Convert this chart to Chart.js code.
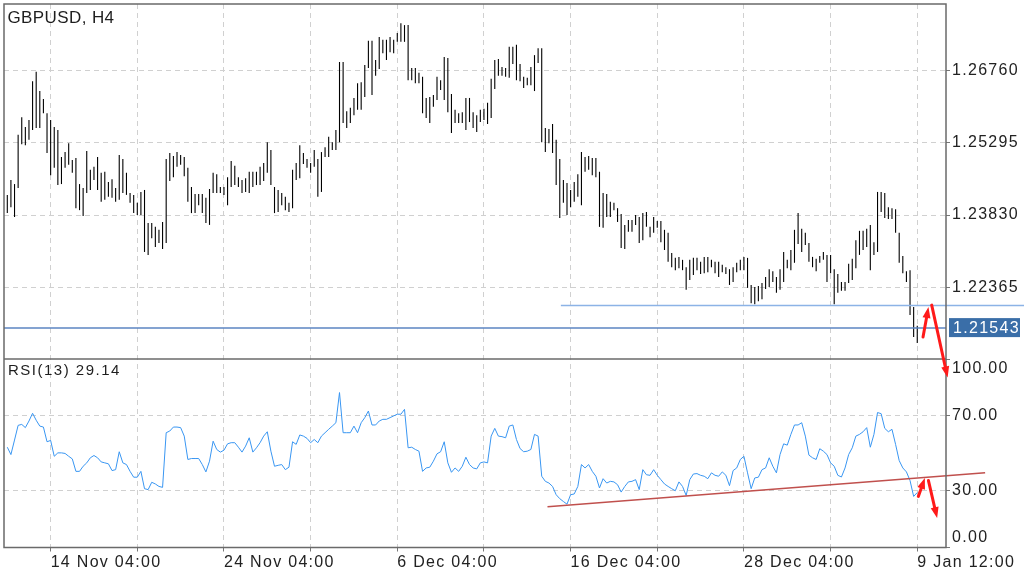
<!DOCTYPE html>
<html>
<head>
<meta charset="utf-8">
<title>GBPUSD, H4</title>
<script src="https://cdn.jsdelivr.net/npm/chart.js@4/dist/chart.umd.min.js"></script>
<style>
  html, body { margin: 0; padding: 0; background: #fff; }
  #chart { display: block; }
</style>
</head>
<body>
<canvas id="chart" width="1024" height="577"></canvas>
<script>
const symbolTitle = 'GBPUSD, H4';
const rsiTitle = 'RSI(13) 29.14';

// H4 bars, one per 4 hours (high / low)
const highs = [
  1.2424, 1.2454, 1.2446, 1.2546, 1.2582, 1.2562, 1.2576, 1.2655, 1.2674, 1.2635, // 0
  1.2619, 1.2590, 1.2576, 1.2562, 1.2556, 1.2501, 1.2511, 1.2529, 1.2495, 1.2499, // 10
  1.2446, 1.2438, 1.2513, 1.2475, 1.2481, 1.2501, 1.2469, 1.2471, 1.2450, 1.2456, // 20
  1.2438, 1.2505, 1.2497, 1.2469, 1.2428, 1.2424, 1.2408, 1.2430, 1.2434, 1.2367, // 30
  1.2367, 1.2359, 1.2353, 1.2369, 1.2497, 1.2509, 1.2503, 1.2511, 1.2505, 1.2501, // 40
  1.2479, 1.2440, 1.2426, 1.2426, 1.2426, 1.2418, 1.2436, 1.2469, 1.2466, 1.2440, // 50
  1.2440, 1.2460, 1.2493, 1.2483, 1.2460, 1.2454, 1.2458, 1.2471, 1.2471, 1.2471, // 60
  1.2481, 1.2489, 1.2531, 1.2515, 1.2440, 1.2434, 1.2428, 1.2420, 1.2408, 1.2475, // 70
  1.2489, 1.2525, 1.2509, 1.2497, 1.2489, 1.2515, 1.2497, 1.2511, 1.2521, 1.2542, // 80
  1.2531, 1.2556, 1.2694, 1.2694, 1.2594, 1.2601, 1.2621, 1.2651, 1.2653, 1.2688, // 90
  1.2737, 1.2737, 1.2698, 1.2745, 1.2739, 1.2739, 1.2745, 1.2739, 1.2753, 1.2773, // 100
  1.2769, 1.2769, 1.2682, 1.2682, 1.2672, 1.2664, 1.2621, 1.2623, 1.2627, 1.2664, // 110
  1.2657, 1.2704, 1.2702, 1.2629, 1.2597, 1.2590, 1.2592, 1.2621, 1.2621, 1.2592, // 120
  1.2586, 1.2597, 1.2599, 1.2611, 1.2660, 1.2698, 1.2700, 1.2684, 1.2682, 1.2725, // 130
  1.2725, 1.2729, 1.2690, 1.2664, 1.2662, 1.2684, 1.2708, 1.2722, 1.2722, 1.2560, // 140
  1.2558, 1.2568, 1.2536, 1.2497, 1.2454, 1.2448, 1.2434, 1.2450, 1.2466, 1.2511, // 150
  1.2501, 1.2503, 1.2499, 1.2499, 1.2471, 1.2428, 1.2426, 1.2410, 1.2408, 1.2397, // 160
  1.2385, 1.2363, 1.2373, 1.2373, 1.2383, 1.2379, 1.2387, 1.2389, 1.2359, 1.2379, // 170
  1.2371, 1.2371, 1.2353, 1.2347, 1.2306, 1.2296, 1.2298, 1.2292, 1.2277, 1.2292, // 180
  1.2296, 1.2296, 1.2288, 1.2298, 1.2298, 1.2292, 1.2288, 1.2288, 1.2282, 1.2277, // 190
  1.2273, 1.2277, 1.2286, 1.2292, 1.2298, 1.2296, 1.2241, 1.2237, 1.2239, 1.2245, // 200
  1.2257, 1.2273, 1.2269, 1.2257, 1.2273, 1.2308, 1.2292, 1.2312, 1.2353, 1.2387, // 210
  1.2355, 1.2347, 1.2326, 1.2298, 1.2294, 1.2300, 1.2308, 1.2302, 1.2302, 1.2273, // 220
  1.2263, 1.2247, 1.2247, 1.2284, 1.2294, 1.2332, 1.2351, 1.2351, 1.2355, 1.2363, // 230
  1.2328, 1.2430, 1.2430, 1.2428, 1.2399, 1.2397, 1.2395, 1.2347, 1.2300, 1.2269, // 240
  1.2271, 1.2196, 1.2158                                                          // 250
];
const lows = [
  1.2387, 1.2399, 1.2379, 1.2438, 1.2527, 1.2525, 1.2536, 1.2556, 1.2560, 1.2560,
  1.2590, 1.2509, 1.2464, 1.2479, 1.2444, 1.2446, 1.2479, 1.2485, 1.2469, 1.2397,
  1.2393, 1.2381, 1.2428, 1.2434, 1.2454, 1.2434, 1.2410, 1.2414, 1.2420, 1.2418,
  1.2410, 1.2414, 1.2428, 1.2424, 1.2408, 1.2387, 1.2383, 1.2383, 1.2308, 1.2302,
  1.2336, 1.2318, 1.2326, 1.2314, 1.2326, 1.2452, 1.2460, 1.2481, 1.2485, 1.2462,
  1.2410, 1.2387, 1.2387, 1.2403, 1.2387, 1.2367, 1.2363, 1.2428, 1.2428, 1.2428,
  1.2424, 1.2403, 1.2440, 1.2444, 1.2440, 1.2428, 1.2430, 1.2428, 1.2440, 1.2444,
  1.2444, 1.2452, 1.2469, 1.2444, 1.2387, 1.2389, 1.2403, 1.2393, 1.2389, 1.2397,
  1.2454, 1.2458, 1.2487, 1.2479, 1.2469, 1.2481, 1.2420, 1.2430, 1.2501, 1.2501,
  1.2515, 1.2515, 1.2531, 1.2570, 1.2560, 1.2570, 1.2586, 1.2597, 1.2597, 1.2623,
  1.2682, 1.2627, 1.2666, 1.2680, 1.2712, 1.2698, 1.2714, 1.2712, 1.2735, 1.2735,
  1.2735, 1.2657, 1.2657, 1.2651, 1.2651, 1.2590, 1.2580, 1.2570, 1.2603, 1.2617,
  1.2637, 1.2617, 1.2592, 1.2550, 1.2570, 1.2570, 1.2570, 1.2556, 1.2572, 1.2560,
  1.2552, 1.2572, 1.2576, 1.2568, 1.2580, 1.2639, 1.2666, 1.2666, 1.2664, 1.2662,
  1.2690, 1.2657, 1.2655, 1.2641, 1.2647, 1.2647, 1.2635, 1.2692, 1.2531, 1.2511,
  1.2529, 1.2509, 1.2444, 1.2377, 1.2408, 1.2383, 1.2399, 1.2410, 1.2420, 1.2403,
  1.2471, 1.2475, 1.2464, 1.2460, 1.2359, 1.2357, 1.2379, 1.2379, 1.2393, 1.2369,
  1.2316, 1.2314, 1.2349, 1.2349, 1.2363, 1.2326, 1.2332, 1.2359, 1.2338, 1.2347,
  1.2357, 1.2328, 1.2312, 1.2288, 1.2277, 1.2271, 1.2275, 1.2271, 1.2231, 1.2251,
  1.2261, 1.2271, 1.2263, 1.2265, 1.2267, 1.2277, 1.2265, 1.2257, 1.2267, 1.2263,
  1.2241, 1.2247, 1.2267, 1.2271, 1.2271, 1.2235, 1.2204, 1.2202, 1.2208, 1.2212,
  1.2233, 1.2237, 1.2247, 1.2225, 1.2231, 1.2247, 1.2275, 1.2271, 1.2286, 1.2324,
  1.2308, 1.2322, 1.2288, 1.2277, 1.2269, 1.2286, 1.2292, 1.2247, 1.2265, 1.2202,
  1.2225, 1.2229, 1.2229, 1.2245, 1.2251, 1.2275, 1.2302, 1.2312, 1.2318, 1.2271,
  1.2302, 1.2308, 1.2389, 1.2377, 1.2375, 1.2375, 1.2347, 1.2286, 1.2265, 1.2247,
  1.2180, 1.2135, 1.2123
];
const rsi = [
  53.2, 49.3, 57.0, 64.8, 65.3, 63.6, 67.1, 71.2, 67.5, 64.4,
  63.9, 56.1, 56.8, 48.4, 50.2, 50.2, 49.9, 48.4, 47.0, 40.4,
  40.4, 43.1, 44.9, 47.6, 48.8, 47.6, 45.4, 44.9, 44.4, 40.8,
  41.3, 50.8, 44.9, 44.0, 40.4, 37.3, 37.3, 40.4, 31.2, 30.7,
  34.6, 33.7, 32.4, 31.9, 60.9, 61.8, 63.9, 63.9, 63.6, 59.1,
  46.7, 47.2, 47.2, 47.2, 44.0, 40.1, 45.8, 56.4, 52.0, 50.6,
  51.6, 55.0, 55.6, 55.6, 53.2, 50.6, 53.8, 58.2, 50.6, 52.9,
  55.6, 59.1, 61.4, 51.1, 43.1, 43.6, 44.0, 41.3, 42.6, 56.1,
  54.7, 59.7, 59.1, 57.9, 55.6, 57.3, 55.6, 59.1, 60.9, 62.7,
  64.4, 66.2, 82.2, 60.9, 60.9, 60.9, 64.4, 60.9, 66.2, 68.9,
  72.4, 65.0, 65.0, 67.1, 68.0, 68.0, 68.9, 69.8, 70.7, 70.7,
  73.3, 52.9, 53.2, 52.0, 51.1, 40.4, 42.2, 42.6, 45.8, 49.7,
  50.8, 56.1, 44.9, 39.9, 42.2, 40.4, 43.1, 47.9, 44.0, 42.2,
  41.7, 44.9, 45.4, 44.9, 59.1, 63.2, 59.1, 58.8, 58.2, 64.4,
  65.0, 57.3, 52.5, 50.8, 51.1, 52.0, 60.0, 59.1, 37.8, 35.1,
  34.2, 32.4, 28.0, 25.9, 24.4, 23.0, 28.0, 28.4, 32.4, 44.0,
  42.2, 44.0, 40.4, 37.8, 31.6, 36.5, 34.2, 35.1, 34.8, 33.3,
  29.4, 32.4, 34.8, 35.1, 36.0, 30.7, 41.3, 38.6, 38.3, 41.3,
  38.3, 36.0, 33.7, 32.4, 31.2, 30.1, 34.8, 32.4, 27.6, 36.0,
  39.0, 39.2, 38.3, 37.8, 36.5, 39.6, 38.3, 37.8, 40.1, 38.3,
  32.8, 40.8, 42.2, 46.7, 48.4, 39.6, 31.2, 36.9, 37.3, 41.3,
  42.2, 47.6, 43.1, 39.6, 49.3, 55.0, 54.3, 60.0, 65.0, 65.0,
  66.2, 59.1, 49.0, 47.6, 46.7, 52.4, 51.1, 49.3, 44.9, 43.1,
  38.3, 37.4, 42.2, 49.3, 52.9, 59.1, 60.0, 61.4, 63.6, 53.2,
  60.0, 71.6, 71.0, 63.2, 61.4, 62.7, 54.7, 46.1, 42.2, 40.1,
  35.5, 27.1, 29.14
];

const lastPrice = 1.21543;
const levelPrice = 1.2200;   // support line drawn on the chart
const levelFrom = 153.3;     // bar where it starts
const priceTicks = [1.26760, 1.25295, 1.23830, 1.22365];
const rsiTicks = [100, 70, 30, 0];
const rsiGrid = [70, 30];
const tickBars = [12, 36, 60, 84, 108, 132, 156, 180, 204, 228, 252];
const tickLabels = ['14 Nov 04:00', '', '24 Nov 04:00', '', '6 Dec 04:00', '', '16 Dec 04:00', '', '28 Dec 04:00', '', '9 Jan 12:00'];
const rsiTrend = [[149.6, 21.6], [270.8, 39.6]];
// hand drawn arrows: [bar, value, axis] tail -> head
const arrows = [
  [[253.6, 1.2135, 'y'], [255.1, 1.2196, 'y']],
  [[256.0, 1.2200, 'y'], [260.4, 90.2, 'rsi']],
  [[252.3, 27.1, 'rsi'], [254.1, 36.9, 'rsi']],
  [[255.1, 35.5, 'rsi'], [257.5, 15.6, 'rsi']],
];

const FONT = "'Liberation Sans', Arial, Helvetica, sans-serif";
const GRID = '#d0d0d0';
const TICK = '#777';
Chart.defaults.font.family = FONT;

function noPadding(scale) {
  scale.paddingTop = 0;
  scale.paddingBottom = 0;
  scale.paddingLeft = 0;
  scale.paddingRight = 0;
}

function drawArrow(ctx, x1, y1, x2, y2) {
  const a = Math.atan2(y2 - y1, x2 - x1);
  const len = 11, w = 4;
  ctx.beginPath();
  ctx.moveTo(x1, y1);
  ctx.lineTo(x2 - Math.cos(a) * len * 0.7, y2 - Math.sin(a) * len * 0.7);
  ctx.stroke();
  ctx.beginPath();
  ctx.moveTo(x2, y2);
  ctx.lineTo(x2 - len * Math.cos(a) + w * Math.sin(a), y2 - len * Math.sin(a) - w * Math.cos(a));
  ctx.lineTo(x2 - len * Math.cos(a) - w * Math.sin(a), y2 - len * Math.sin(a) + w * Math.cos(a));
  ctx.closePath();
  ctx.fill();
}

const spacing = {
  id: 'spacing',
  beforeDraw(chart) {
    chart.ctx.letterSpacing = '1.3px';
  },
};

const overlays = {
  id: 'overlays',
  afterDatasetsDraw(chart) {
    const { ctx, chartArea: a, scales } = chart;
    const { x, y } = scales;
    ctx.save();

    const ly = Math.round(y.getPixelForValue(levelPrice)) + 0.5;
    ctx.strokeStyle = '#8cb3e6';
    ctx.lineWidth = 1.5;
    ctx.beginPath();
    ctx.moveTo(x.getPixelForValue(levelFrom), ly);
    ctx.lineTo(chart.width, ly);
    ctx.stroke();

    const py = Math.round(y.getPixelForValue(lastPrice));
    ctx.strokeStyle = '#5b84c2';
    ctx.lineWidth = 1.5;
    ctx.beginPath();
    ctx.moveTo(a.left, py);
    ctx.lineTo(a.right, py);
    ctx.stroke();

    ctx.strokeStyle = '#c0504d';
    ctx.lineWidth = 1.5;
    ctx.beginPath();
    ctx.moveTo(x.getPixelForValue(rsiTrend[0][0]), scales.rsi.getPixelForValue(rsiTrend[0][1]));
    ctx.lineTo(x.getPixelForValue(rsiTrend[1][0]), scales.rsi.getPixelForValue(rsiTrend[1][1]));
    ctx.stroke();

    // panel frames
    ctx.strokeStyle = '#6a6a6a';
    ctx.lineWidth = 1.5;
    ctx.strokeRect(a.left, a.top, a.right - a.left, a.bottom - a.top);
    ctx.beginPath();
    ctx.moveTo(a.left, scales.rsi.top);
    ctx.lineTo(a.right, scales.rsi.top);
    ctx.stroke();
    ctx.restore();
  },
  afterDraw(chart) {
    const { ctx, scales } = chart;
    const { x, y } = scales;
    ctx.save();

    // current price tag
    const py = y.getPixelForValue(lastPrice);
    ctx.fillStyle = '#3a6ea8';
    ctx.fillRect(949, py - 9.5, 71, 19);
    ctx.fillStyle = '#fff';
    ctx.font = '16px ' + FONT;
    ctx.letterSpacing = '1.3px';
    ctx.textBaseline = 'middle';
    ctx.textAlign = 'left';
    ctx.fillText(lastPrice.toFixed(5), 953, py + 0.5);

    ctx.fillStyle = '#1e1e1e';
    ctx.textBaseline = 'alphabetic';
    ctx.font = '17px ' + FONT;
    ctx.letterSpacing = '0.4px';
    ctx.fillText(symbolTitle, 7.5, 23.3);
    ctx.font = '15px ' + FONT;
    ctx.letterSpacing = '1.5px';
    ctx.fillText(rsiTitle, 8, 375);

    ctx.strokeStyle = '#ff1a1a';
    ctx.fillStyle = '#ff1a1a';
    ctx.lineWidth = 3;
    ctx.lineCap = 'round';
    arrows.forEach(([t, h]) => {
      drawArrow(ctx,
        x.getPixelForValue(t[0]), scales[t[2]].getPixelForValue(t[1]),
        x.getPixelForValue(h[0]), scales[h[2]].getPixelForValue(h[1]));
    });
    ctx.restore();
  },
};

const tickFont = { size: 16, family: FONT };

new Chart(document.getElementById('chart'), {
  type: 'bar',
  data: {
    datasets: [
      {
        label: 'GBPUSD',
        data: highs.map((h, i) => ({ x: i, y: [lows[i], h] })),
        backgroundColor: '#000',
        borderWidth: 0,
        barThickness: 1.1,
        inflateAmount: 0,
        grouped: false,
        yAxisID: 'y',
      },
      {
        type: 'line',
        label: 'RSI(13)',
        data: rsi.map((v, i) => ({ x: i, y: v })),
        borderColor: '#3996f2',
        borderWidth: 1,
        pointRadius: 0,
        tension: 0,
        yAxisID: 'rsi',
      },
    ],
  },
  options: {
    responsive: false,
    animation: false,
    layout: { padding: { left: 4, top: 4, right: 0, bottom: 0 } },
    plugins: { legend: { display: false }, tooltip: { enabled: false } },
    scales: {
      x: {
        type: 'linear',
        min: -0.914,
        max: 259.96,
        offset: false,
        bounds: 'data',
        afterBuildTicks: (s) => { s.ticks = tickBars.map((v) => ({ value: v })); },
        afterFit: (s) => { s.height = 29.5; noPadding(s); },
        ticks: {
          autoSkip: false,
          maxRotation: 0,
          minRotation: 0,
          align: 'start',
          padding: 1,
          color: '#222',
          font: tickFont,
          callback: (v, i) => tickLabels[i] || '',
        },
        grid: { offset: false, color: GRID, lineWidth: 1, tickLength: 4, tickColor: TICK, tickBorderDash: [] },
        border: { display: false, dash: [5, 4] },
      },
      y: {
        position: 'right',
        stack: 'panes',
        stackWeight: 355,
        min: 1.20905,
        max: 1.28119,
        bounds: 'data',
        afterBuildTicks: (s) => { s.ticks = priceTicks.map((v) => ({ value: v })); },
        afterFit: (s) => { s.width = 78; noPadding(s); },
        ticks: { autoSkip: false, padding: 2, color: '#222', font: tickFont, callback: (v) => Number(v).toFixed(5) },
        grid: { color: GRID, lineWidth: 1, tickLength: 4, tickColor: TICK, tickBorderDash: [] },
        border: { display: false, dash: [5, 4] },
      },
      rsi: {
        position: 'right',
        stack: 'panes',
        stackWeight: 188.5,
        min: 0,
        max: 100,
        bounds: 'data',
        afterBuildTicks: (s) => { s.ticks = rsiTicks.map((v) => ({ value: v })); },
        afterFit: (s) => { s.width = 78; noPadding(s); },
        ticks: {
          autoSkip: false,
          padding: 2,
          color: '#222',
          font: tickFont,
          callback: (v) => {
            const t = Number(v).toFixed(2);
            if (v === 100) return ['', t];
            if (v === 0) return [t, ''];
            return t;
          },
        },
        grid: {
          color: (c) => (c.tick && rsiGrid.includes(c.tick.value) ? GRID : 'rgba(0,0,0,0)'),
          lineWidth: 1,
          tickLength: 4,
          tickColor: TICK,
          tickBorderDash: [],
        },
        border: { display: false, dash: [5, 4] },
      },
    },
  },
  plugins: [spacing, overlays],
});
</script>
</body>
</html>
